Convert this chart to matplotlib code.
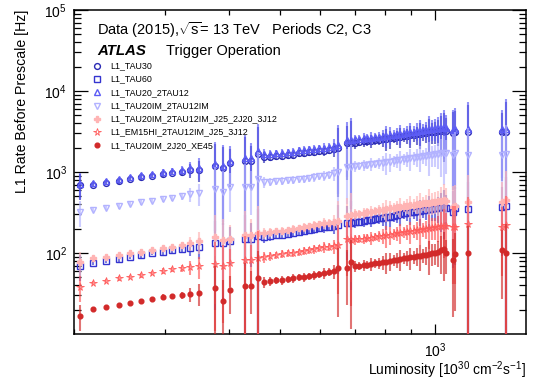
import numpy as np
import matplotlib
matplotlib.use('Agg')
import matplotlib.pyplot as plt
from matplotlib.ticker import LogLocator, NullFormatter, FixedLocator

plt.rcParams['font.family'] = ['Liberation Sans', 'DejaVu Sans']
plt.rcParams['mathtext.fontset'] = 'custom'
plt.rcParams['mathtext.rm'] = 'Liberation Sans'
plt.rcParams['mathtext.it'] = 'Liberation Sans:italic'
plt.rcParams['mathtext.bf'] = 'Liberation Sans:bold'

# luminosity bins [1e30 cm-2 s-1]
lumi = [205, 218, 231, 244, 257, 270, 283, 297, 310, 323, 336, 349,
        375, 388, 401,
        428, 441, 454, 467, 480, 493, 506, 519, 532, 545, 558, 571, 584, 597, 610, 623, 636, 649,
        675, 688, 701, 714, 727, 740, 753, 766, 779, 792, 805, 818, 831, 844, 857, 870, 883, 896,
        909, 922, 935, 948, 961, 974, 987, 1000, 1013, 1026, 1039, 1052,
        1082, 1095, 1160, 1345, 1372]

# L1 rates [Hz]
tau30 = [690, 695, 730, 775, 820, 865, 895, 945, 975, 1000, 1055, 1060,
         1185, 1120, 1290,
         1370, 1365, 1670, 1530, 1540, 1575, 1585, 1620, 1630, 1710, 1720, 1765, 1775, 1815, 1830, 1870, 1920, 1980,
         2270, 2300, 2290, 2350, 2380, 2390, 2440, 2460, 2510, 2530, 2580, 2600, 2650, 2680, 2730, 2750, 2810, 2830,
         2890, 2910, 2970, 2990, 3050, 3080, 3140, 3160, 3220, 3250, 3310, 3240,
         3020, 3120, 3110, 3100, 3150]
tau60 = [69, 75, 80, 84, 89, 94, 100, 103, 108, 112, 115, 119,
         133, 132, 141,
         149, 150, 162, 158, 162, 166, 168, 172, 177, 181, 187, 191, 197, 203, 208, 211, 216, 222,
         233, 236, 240, 243, 248, 253, 257, 262, 268, 272, 277, 281, 287, 293, 300, 308, 312, 318,
         322, 327, 332, 337, 342, 348, 352, 357, 362, 368, 372, 360,
         322, 358, 350, 368, 380]
tau20_2tau12 = [720, 735, 775, 820, 870, 915, 950, 1000, 1035, 1065, 1120, 1130,
                1260, 1195, 1380,
                1480, 1475, 1820, 1670, 1680, 1720, 1735, 1770, 1785, 1870, 1885, 1930, 1945, 1985, 2005, 2045, 2100, 2165,
                2480, 2510, 2520, 2570, 2600, 2610, 2660, 2690, 2740, 2770, 2820, 2840, 2900, 2930, 2980, 3000, 3070, 3090,
                3160, 3180, 3240, 3260, 3330, 3360, 3420, 3450, 3510, 3540, 3610, 3530,
                3280, 3400, 3380, 3370, 3430]
tau20im_2tau12im = [321, 340, 359, 380, 403, 426, 438, 464, 477, 505, 535, 550,
                    620, 570, 650,
                    652, 655, 820, 752, 758, 770, 780, 790, 800, 812, 822, 840, 860, 880, 905, 930, 960, 1000,
                    1150, 1160, 1180, 1190, 1215, 1225, 1250, 1260, 1290, 1300, 1330, 1335, 1370, 1400, 1410, 1445, 1455, 1490,
                    1495, 1530, 1540, 1575, 1585, 1620, 1630, 1665, 1675, 1715, 1720, 1710,
                    1620, 1715, 1620, 1625, 1670]
tau20im_j25 = [77, 86, 89, 94, 100, 104, 109, 114, 119, 126, 132, 140,
               158, 145, 149,
               167, 168, 178, 177, 180, 185, 188, 193, 198, 203, 209, 214, 220, 227, 232, 236, 242, 250,
               290, 296, 300, 306, 312, 318, 322, 330, 337, 342, 348, 355, 360, 366, 372, 378, 384, 390,
               395, 400, 405, 410, 415, 420, 425, 430, 435, 440, 450, 440,
               370, 380, 426, 426, 451]
em15hi = [38.0, 42.6, 45.1, 49.1, 50.5, 53.5, 56.6, 59.9, 63.4, 65.3, 67.2, 69.1,
          73.1, 69.1, 75.2,
          82, 82, 86.7, 89.2, 91.8, 94.5, 97.2, 100, 100, 103, 106, 109, 112, 115, 119, 119, 122, 126,
          148, 146, 147, 150, 151, 154, 155, 158, 161, 163, 166, 168, 171, 175, 177, 180, 183, 186,
          188, 191, 194, 197, 200, 203, 206, 209, 212, 215, 217, 214,
          209, 209, 228, 209, 222]
xe45 = [16.7, 20.4, 21.5, 22.8, 24.1, 25.5, 27.0, 28.6, 29.4, 30.3, 31.2, 32.1,
        37.0, 25.5, 34.9,
        39.1, 39.1, 49.1, 43.8, 45.1, 46.2, 46.4, 47.7, 49.1, 50.5, 50.5, 52.0, 53.5, 55.0, 56.6, 58.3, 60.0, 65.3,
        65.3, 77.4, 69.1, 69.5, 71.1, 71.5, 73.1, 75.2, 75.6, 77.4, 78.0, 79.6, 82.0, 82.5, 84.3, 86.7, 87.0, 89.2,
        89.6, 91.8, 92.2, 94.5, 95.0, 97.2, 100, 100.5, 103, 109, 112, 100,
        82, 97, 100, 109, 100]

# relative spread of the rate in each luminosity bin
rel_err = [0.35, 0.06, 0.06, 0.07, 0.06, 0.07, 0.06, 0.08, 0.07, 0.10, 0.20, 0.30,
           0.85, 0.80, 0.50,
           0.95, 0.55, 1.15, 0.15, 0.12, 0.10, 0.12, 0.10, 0.12, 0.10, 0.12, 0.10, 0.12, 0.10, 0.15, 0.12, 0.20, 0.75,
           0.65, 0.85, 0.15, 0.12, 0.15, 0.12, 0.18, 0.12, 0.15, 0.20, 0.30, 0.25, 0.15, 0.20, 0.28, 0.15, 0.20, 0.30,
           0.18, 0.25, 0.35, 0.20, 0.25, 0.45, 0.30, 0.30, 0.35, 0.50, 0.60, 0.45,
           0.80, 0.80, 1.15, 0.75, 1.30]

labels = ['L1_TAU30', 'L1_TAU60', 'L1_TAU20_2TAU12', 'L1_TAU20IM_2TAU12IM',
          'L1_TAU20IM_2TAU12IM_J25_2J20_3J12', 'L1_EM15HI_2TAU12IM_J25_3J12',
          'L1_TAU20IM_2J20_XE45']
series = [tau30, tau60, tau20_2tau12, tau20im_2tau12im, tau20im_j25, em15hi, xe45]
colors = ['#2a2ab4', '#3434d0', '#5c5cf5', '#b2b2ff', '#ffb4b4', '#ff5a5a', '#d22a2a']
markers = ['o', 's', '^', 'v', 'P', '*', 'o']
filled = [False, False, False, False, True, False, True]
msizes = [4.2, 4.3, 4.3, 4.3, 4.5, 5.6, 3.4]
mews = [1.0, 1.0, 1.0, 1.0, 1.0, 0.6, 1.0]

fig = plt.figure(figsize=(5.36, 3.87), dpi=100)
ax = fig.add_axes([74 / 536, 1 - 334 / 387, 452 / 536, 324 / 387])

x = np.array(lumi)
rel = np.array(rel_err)
for i, (vals, col, m, f, ms, mw) in enumerate(zip(series, colors, markers, filled, msizes, mews)):
    v = np.array(vals, dtype=float)
    e = v * rel
    lo = np.minimum(e, v * 0.999)
    ax.errorbar(x, v, yerr=[lo, e], fmt='none', ecolor=col, alpha=0.65,
                elinewidth=1.5, zorder=2 + i)
    ax.plot(x, v, ls='none', marker=m, ms=ms, mec=col, mew=mw,
            mfc=col if f else 'none', zorder=2.5 + i)

ax.set_xscale('log')
ax.set_yscale('log')
ax.set_xlim(200, 1500)
ax.set_ylim(10, 1e5)

ax.yaxis.set_major_locator(FixedLocator([1e2, 1e3, 1e4, 1e5]))
ax.yaxis.set_minor_locator(LogLocator(base=10, subs=np.arange(2, 10), numticks=20))
ax.xaxis.set_minor_locator(LogLocator(base=10, subs=np.arange(2, 10), numticks=20))
ax.xaxis.set_minor_formatter(NullFormatter())
ax.yaxis.set_minor_formatter(NullFormatter())

ax.tick_params(which='both', direction='in', top=True, right=True, labelsize=10, width=0.9)
ax.tick_params(axis='x', which='major', length=7, pad=5)
ax.tick_params(axis='x', which='minor', length=3.8)
ax.tick_params(axis='y', which='major', length=10, pad=5)
ax.tick_params(axis='y', which='minor', length=5)
for s in ax.spines.values():
    s.set_linewidth(1.1)

fig.text(22 / 536, 1 - 10 / 387, 'L1 Rate Before Prescale [Hz]', rotation=90,
         ha='center', va='top', fontsize=10.2)
fig.text(526 / 536, 1 - 370 / 387, r'Luminosity [10$^{30}$ cm$^{-2}$s$^{-1}$]',
         ha='right', va='center', fontsize=10)

ax.text(0.051, 0.923, r'Data (2015),$\sqrt{\mathrm{s}}$= 13 TeV   Periods C2, C3',
        transform=ax.transAxes, fontsize=10.5, va='baseline')
ax.text(0.051, 0.861, 'ATLAS', transform=ax.transAxes, fontsize=10.8,
        fontweight='bold', fontstyle='italic', va='baseline')
ax.text(0.204, 0.861, 'Trigger Operation', transform=ax.transAxes, fontsize=10.5,
        va='baseline')

# legend
for i, (lab, col, m, f, ms, mw) in enumerate(zip(labels, colors, markers, filled, msizes, mews)):
    yy = 0.828 - i * 0.041
    ax.plot([0.050], [yy], transform=ax.transAxes, ls='none', marker=m, ms=ms,
            mec=col, mew=mw, mfc=col if f else 'none', clip_on=False, zorder=20)
    ax.text(0.0797, yy, lab, transform=ax.transAxes, fontsize=6.4, va='center')

fig.savefig('out.png', dpi=100)
